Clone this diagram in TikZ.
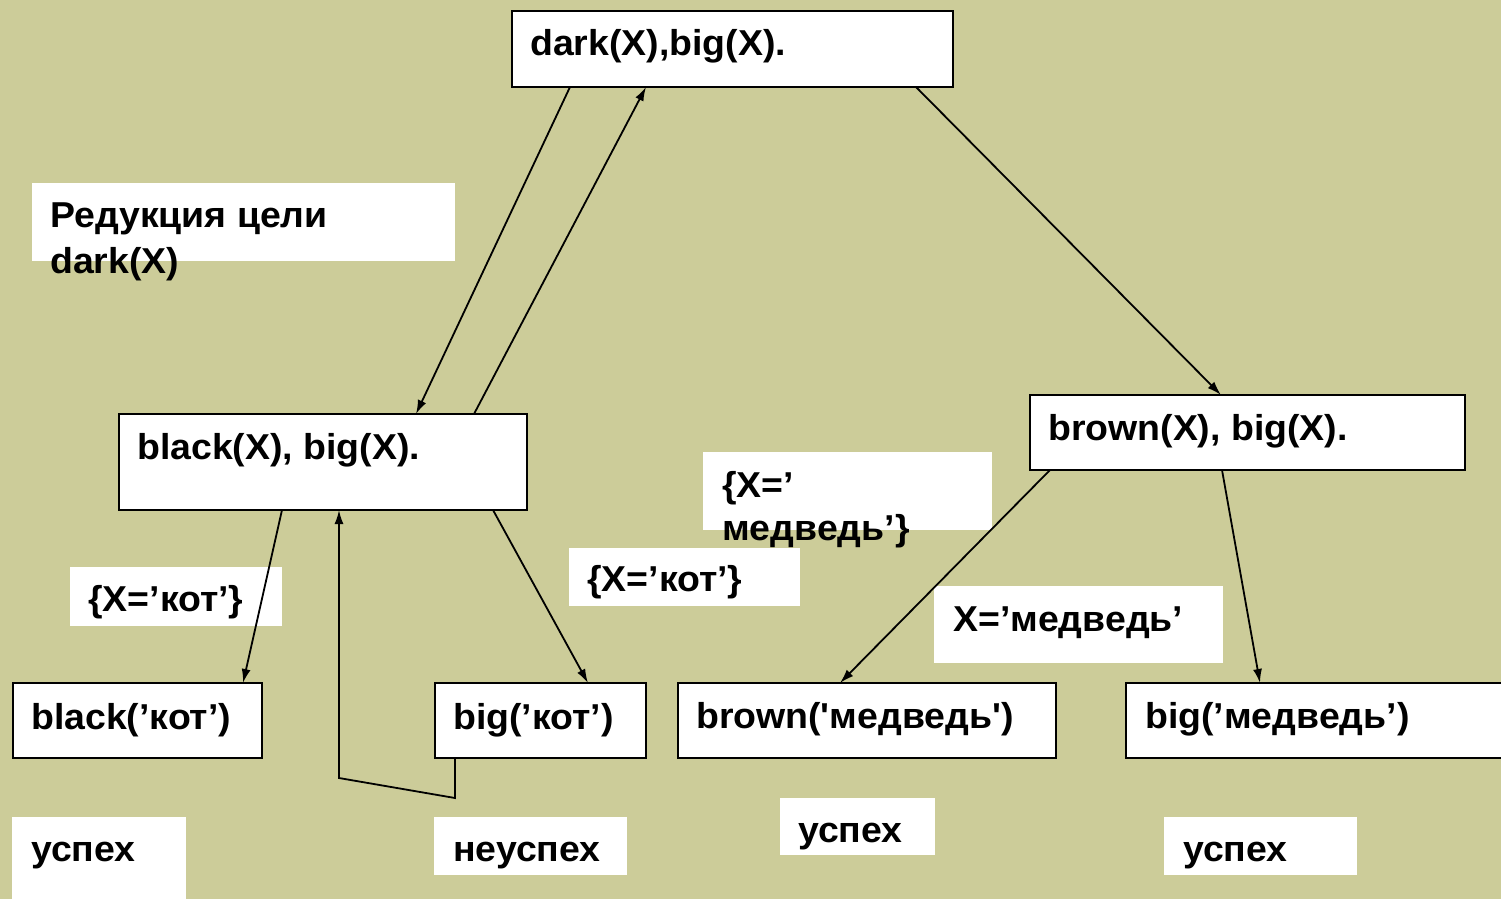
\documentclass[tikz,border=0pt]{standalone}
\usepackage{fontspec}
\setmainfont{Liberation Sans}
\usetikzlibrary{arrows.meta}
\definecolor{olivebg}{RGB}{204,204,153}
\newcommand\sx[1]{\scalebox{1.04}[1]{#1}}
\begin{document}
\begin{tikzpicture}[x=1pt,y=1pt,
  box/.style={draw=black, line width=2pt, fill=white, anchor=north west, inner sep=0pt, outer sep=0pt},
  lab/.style={fill=white, anchor=north west, inner sep=0pt, outer sep=0pt},
  txt/.style={anchor=base west, inner sep=0pt, font=\fontsize{36}{46}\selectfont\bfseries},
  arr/.style={line width=1.8pt, -{Latex[length=14pt,width=9pt]}},
  ln/.style={line width=1.8pt}]
\fill[olivebg] (0,0) rectangle (1501,-899);
\useasboundingbox (0,0) rectangle (1501,-899);

% white label areas
\node[lab, minimum width=423pt, minimum height=78pt] (red) at (32,-183) {};
\node[lab, minimum width=289pt, minimum height=78pt] (xm) at (703,-452) {};
\node[lab, minimum width=212pt, minimum height=59pt] (xk1) at (70,-567) {};
\node[lab, minimum width=231pt, minimum height=58pt] (xk2) at (569,-548) {};
\node[lab, minimum width=289pt, minimum height=77pt] (xm2) at (934,-586) {};
\node[lab, minimum width=174pt, minimum height=82pt] (u1) at (12,-817) {};
\node[lab, minimum width=193pt, minimum height=58pt] (nu) at (434,-817) {};
\node[lab, minimum width=155pt, minimum height=57pt] (u2) at (780,-798) {};
\node[lab, minimum width=193pt, minimum height=58pt] (u3) at (1164,-817) {};

% goal boxes
\node[box, minimum width=441pt, minimum height=76pt] (top) at (512,-11) {};
\node[box, minimum width=408pt, minimum height=96pt] (blk) at (119,-414) {};
\node[box, minimum width=435pt, minimum height=75pt] (brn) at (1030,-395) {};
\node[box, minimum width=249pt, minimum height=75pt] (bk) at (13,-683) {};
\node[box, minimum width=211pt, minimum height=75pt] (bg) at (435,-683) {};
\node[box, minimum width=378pt, minimum height=75pt] (bm) at (678,-683) {};
\node[box, minimum width=390pt, minimum height=75pt] (bgm) at (1126,-683) {};

% texts
\node[txt] (ttop) at (530,-56) {\sx{dark(X),big(X).}};
\node[txt] (tred1) at (50,-227) {\sx{Редукция цели}};
\node[txt] (tred2) at (50,-273) {\sx{dark(X)}};
\node[txt] (tblk) at (137,-459) {\sx{black(X), big(X).}};
\node[txt] (tbrn) at (1048,-440) {\sx{brown(X), big(X).}};
\node[txt] (txm1) at (722,-497) {\sx{\{X=’}};
\node[txt] (txm2) at (722,-540) {\sx{медведь’\}}};
\node[txt] (txk1) at (88,-611) {\sx{\{X=’кот’\}}};
\node[txt] (txk2) at (587,-591) {\sx{\{X=’кот’\}}};
\node[txt] (txm3) at (953,-631) {\sx{X=’медведь’}};
\node[txt] (tbk) at (31,-729) {\sx{black(’кот’)}};
\node[txt] (tbg) at (453,-729) {\sx{big(’кот’)}};
\node[txt] (tbm) at (696,-728) {\sx{brown(\textquotesingle медведь\textquotesingle)}};
\node[txt] (tbgm) at (1145,-728) {\sx{big(’медведь’)}};
\node[txt] (tu1) at (31,-861) {\sx{успех}};
\node[txt] (tnu) at (453,-861) {\sx{неуспех}};
\node[txt] (tu2) at (798,-842) {\sx{успех}};
\node[txt] (tu3) at (1183,-861) {\sx{успех}};

% connectors
\draw[arr] ([xshift=58pt]top.south west) -- ([xshift=297pt]blk.north west);
\draw[arr] ([xshift=355pt]blk.north west) -- ([xshift=134pt]top.south west);
\draw[arr] ([xshift=404pt]top.south west) -- ([xshift=191pt]brn.north west);
\draw[arr] ([xshift=163pt]blk.south west) -- ([xshift=230pt]bk.north west);
\draw[arr] ([xshift=374pt]blk.south west) -- ([xshift=153pt]bg.north west);
\coordinate (c1) at (455,-798);
\coordinate (c2) at (339,-778);
\draw[arr] ([xshift=20pt]bg.south west) -- (c1) -- (c2) -- ([xshift=220pt]blk.south west);
\draw[arr] ([xshift=20pt]brn.south west) -- ([xshift=162pt]bm.north west);
\draw[arr] ([xshift=192pt]brn.south west) -- ([xshift=134pt]bgm.north west);
\end{tikzpicture}
\end{document}
